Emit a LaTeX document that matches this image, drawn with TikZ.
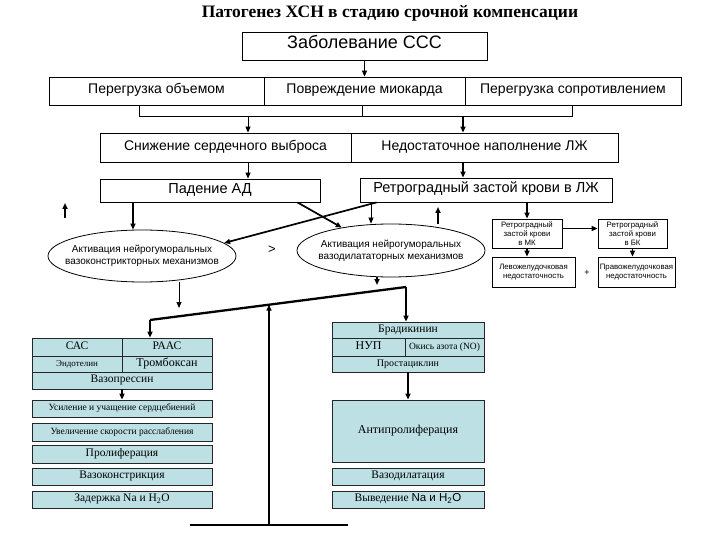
\documentclass[tikz,border=0pt]{standalone}
\usepackage{fontspec}
\setmainfont{Liberation Serif}
\setsansfont{Liberation Sans}
\usetikzlibrary{arrows.meta, shapes.geometric}
\definecolor{boxcyan}{RGB}{189,224,229}

\begin{document}
\begin{tikzpicture}[x=1bp, y=-1bp,
  arr/.style={-{Triangle[length=6bp,width=5bp]}},
  thin/.style={line width=0.8bp},
  bold/.style={line width=1.7bp},
  beam/.style={line width=2.3bp},
  topbox/.style={draw, line width=0.8bp, inner sep=0pt, text height=0.72em, text depth=0.2em, font=\sffamily\fontsize{14bp}{16bp}\selectfont},
  smallbox/.style={draw, line width=0.8bp, inner sep=0pt, align=center, font=\sffamily\fontsize{7.8bp}{9bp}\selectfont},
  oval/.style={draw, ellipse, line width=0.8bp, inner sep=0pt},
  ovaltext/.style={align=center, font=\sffamily\fontsize{10bp}{12bp}\selectfont},
  mech/.style={draw=black!85, fill=boxcyan, line width=0.7bp, inner sep=0pt, text height=0.7em, text depth=0.2em, font=\fontsize{11.5bp}{13bp}\selectfont},
]
\path[fill=white, use as bounding box] (0,0) rectangle (720,540);

\node[font=\bfseries\fontsize{17.5bp}{19bp}\selectfont] (title) at (390,13) {Патогенез ХСН в стадию срочной компенсации};

\node[topbox, minimum width=245bp, minimum height=28bp, font=\sffamily\fontsize{18bp}{20bp}\selectfont] (cvd) at (364.5,46) {Заболевание ССС};

\node[topbox, minimum width=215bp, minimum height=28bp] (volOver) at (156.5,91) {Перегрузка объемом};
\node[topbox, minimum width=201bp, minimum height=28bp] (myoDmg) at (364.5,91) {Повреждение миокарда};
\node[topbox, minimum width=216bp, minimum height=28bp] (resOver) at (573,91) {Перегрузка сопротивлением};

\node[topbox, minimum width=251bp, minimum height=29bp] (lowCO) at (225.5,147.5) {Снижение сердечного выброса};
\node[topbox, minimum width=267bp, minimum height=29bp] (lvFill) at (484.5,147.5) {Недостаточное наполнение ЛЖ};

\node[topbox, minimum width=220bp, minimum height=23bp, font=\sffamily\fontsize{14.5bp}{16bp}\selectfont] (bpFall) at (210,190.5) {Падение АД};
\node[topbox, minimum width=252bp, minimum height=24bp, font=\sffamily\fontsize{14.5bp}{16bp}\selectfont] (retro) at (486,190) {Ретроградный застой крови в ЛЖ};

\node[oval, minimum width=188bp, minimum height=52bp,
  label={[ovaltext]center:{Активация нейрогуморальных\\вазоконстрикторных механизмов}}] (vcon) at (142,256) {};
\node[oval, minimum width=188bp, minimum height=53bp,
  label={[ovaltext]center:{Активация нейрогуморальных\\вазодилататорных механизмов}}] (vdil) at (391,250.5) {};
\node[font=\sffamily\fontsize{13bp}{13bp}\selectfont] (gt) at (272,250) {>};

\node[smallbox, minimum width=70bp, minimum height=29bp] (mk) at (527,233.5) {Ретроградный\\застой крови\\в МК};
\node[smallbox, minimum width=69bp, minimum height=29bp] (bk) at (632.5,233.5) {Ретроградный\\застой крови\\в БК};
\node[smallbox, minimum width=83bp, minimum height=30bp] (lvFail) at (533.5,272) {Левожелудочковая\\недостаточность};
\node[smallbox, minimum width=77bp, minimum height=30bp] (rvFail) at (636.5,272) {Правожелудочковая\\недостаточность};
\node[font=\sffamily\fontsize{9bp}{9bp}\selectfont] (plus) at (587,273) {+};

\node[mech, minimum width=90bp, minimum height=18bp] (sas) at (77,347) {САС};
\node[mech, minimum width=90bp, minimum height=18bp] (raas) at (167,347) {РААС};
\node[mech, minimum width=90bp, minimum height=16bp, font=\fontsize{9bp}{10bp}\selectfont] (endo) at (77,364) {Эндотелин};
\node[mech, minimum width=90bp, minimum height=16bp, font=\fontsize{12bp}{13bp}\selectfont] (txa) at (167,364) {Тромбоксан};
\node[mech, minimum width=180bp, minimum height=17bp] (vaso) at (122,380.5) {Вазопрессин};
\node[mech, minimum width=180bp, minimum height=17bp, font=\fontsize{9.5bp}{11bp}\selectfont] (heart) at (122,408.5) {Усиление и учащение сердцебиений};
\node[mech, minimum width=180bp, minimum height=18bp, font=\fontsize{9.5bp}{11bp}\selectfont] (relax) at (122,432) {Увеличение скорости расслабления};
\node[mech, minimum width=180bp, minimum height=18bp] (prolif) at (122,454) {Пролиферация};
\node[mech, minimum width=180bp, minimum height=17bp] (vcons) at (122,476.5) {Вазоконстрикция};
\node[mech, minimum width=180bp, minimum height=17bp] (naRet) at (122,499.5) {Задержка Na и H\textsubscript{2}O};

\node[mech, minimum width=152bp, minimum height=16bp] (brady) at (408,330) {Брадикинин};
\node[mech, minimum width=73bp, minimum height=18bp, font=\fontsize{12bp}{13bp}\selectfont] (nup) at (368.5,347) {НУП};
\node[mech, minimum width=79bp, minimum height=18bp, font=\fontsize{9.5bp}{11bp}\selectfont] (no) at (444.5,347) {Окись азота (NO)};
\node[mech, minimum width=152bp, minimum height=16bp, font=\fontsize{10bp}{11bp}\selectfont] (pgi) at (408,364) {Простациклин};
\node[mech, minimum width=152bp, minimum height=62bp, font=\fontsize{12bp}{13bp}\selectfont] (antiProl) at (408,431) {Антипролиферация};
\node[mech, minimum width=152bp, minimum height=17bp] (vdilat) at (408,476.5) {Вазодилатация};
\node[mech, minimum width=152bp, minimum height=17bp] (naExc) at (408,499.5) {Выведение {\sffamily Na и H\textsubscript{2}O}};

\coordinate (busL) at (139,116);
\coordinate (busM) at (362,116);
\coordinate (busR) at (572,116);
\coordinate (colL) at (248,0);
\coordinate (colR) at (463,0);
\coordinate (padCut) at (133,0);
\coordinate (retCut) at (371,0);
\coordinate (vconOut) at (179,308);
\coordinate (vdilOut) at (377,285);
\coordinate (upLa) at (65,218);
\coordinate (upLb) at (65,203);
\coordinate (upRa) at (438,224);
\coordinate (upRb) at (438,207);
\coordinate (beamL) at (150,320);
\coordinate (beamR) at (406,287);
\coordinate (pivot) at (269,304.7);
\coordinate (foot) at (269,525);
\coordinate (baseL) at (190,525);
\coordinate (baseR) at (348,525);

\draw[thin, arr] (cvd.south) -- (myoDmg.north);
\draw[thin] (volOver.south -| busL) -- (busL) -- (busR) -- (resOver.south -| busR);
\draw[thin] (myoDmg.south -| busM) -- (busM);
\draw[thin, arr] (busL -| colL) -- (lowCO.north -| colL);
\draw[bold, arr] (busL -| colR) -- (lvFill.north -| colR);
\draw[thin, arr] (lowCO.south -| colL) -- (bpFall.north -| colL);
\draw[bold, arr] (lvFill.south -| colR) -- (retro.north -| colR);

\draw[bold, arr] (bpFall.south -| padCut) -- (vcon.north -| padCut);
\draw[bold, arr] ([xshift=-23bp]bpFall.south east) -- (vdil.155);
\draw[bold, arr] ([xshift=17bp]retro.south west) -- (vcon.9);
\draw[thin, arr] (retro.south -| retCut) -- (vdil.north -| retCut);
\draw[bold, arr] (upLa) -- (upLb);
\draw[bold, arr] (upRa) -- (upRb);

\draw[bold, arr] (retro.south -| mk) -- (mk.north);
\draw[bold, arr] ([yshift=5bp]mk.east) -- ([yshift=5bp]bk.west);
\draw[bold, arr] (mk.south) -- (lvFail.north -| mk);
\draw[bold, arr] (bk.south) -- (rvFail.north -| bk);

\draw[thin, arr] (vcon.south -| vconOut) -- (vconOut);
\draw[bold, arr] (vdil.south -| vdilOut) -- (vdilOut);

\draw[beam] (beamL) -- (pivot) -- (beamR);
\draw[beam, arr] (beamL) -- (beamL |- raas.north);
\draw[beam, arr] (beamR) -- (beamR |- brady.north);
\draw[beam, arr] (foot) -- (pivot);
\draw[beam] (baseL) -- (baseR);
\draw[bold, arr] (vaso.south) -- (heart.north);
\draw[bold, arr] (pgi.south) -- (antiProl.north);
\end{tikzpicture}
\end{document}
